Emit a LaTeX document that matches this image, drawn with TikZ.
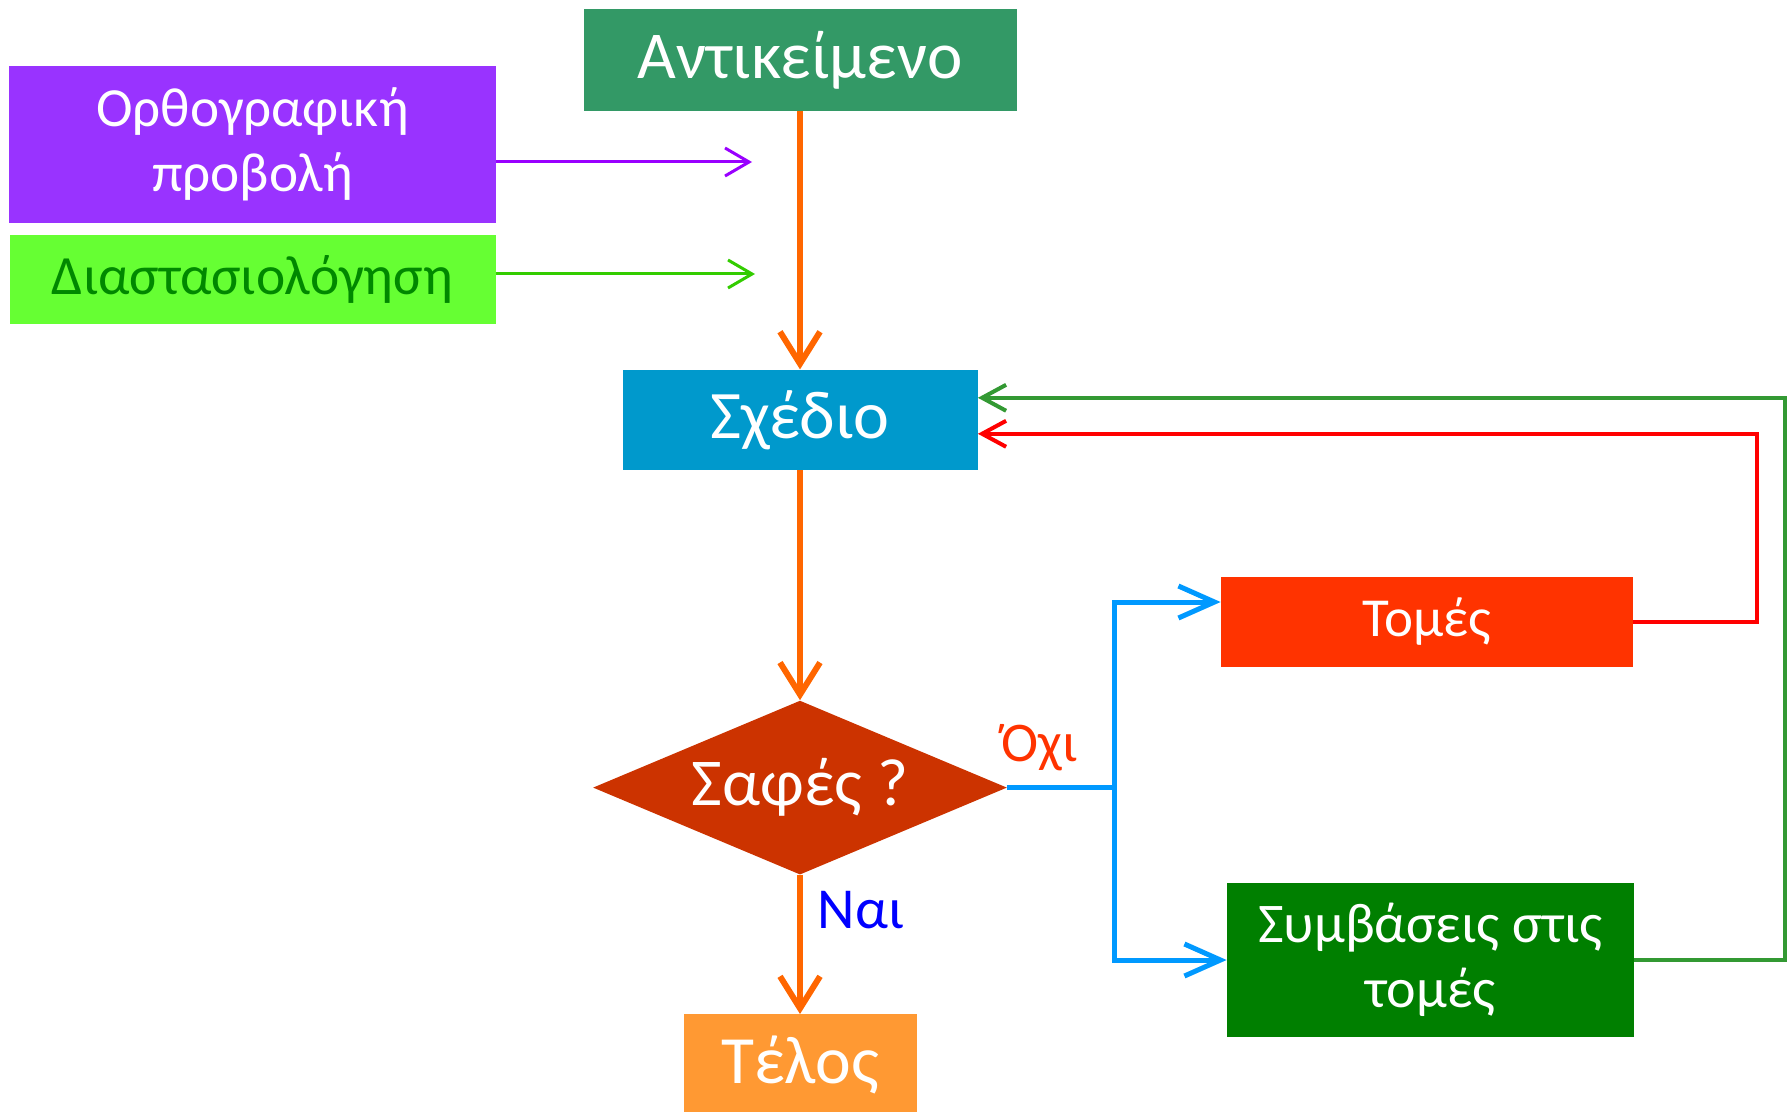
\documentclass[tikz,border=0pt]{standalone}
\usepackage{fontspec}
\setmainfont{Carlito}
\usetikzlibrary{arrows.meta,positioning,shapes.geometric}
\definecolor{objgreen}{HTML}{339966}
\definecolor{orthopurple}{HTML}{9933FF}
\definecolor{dimslime}{HTML}{66FF33}
\definecolor{dimstext}{HTML}{008800}
\definecolor{sketchblue}{HTML}{0099CC}
\definecolor{clearred}{HTML}{CC3300}
\definecolor{endorange}{HTML}{FF9933}
\definecolor{cutsred}{HTML}{FF3300}
\definecolor{convgreen}{HTML}{007F00}
\definecolor{flowor}{HTML}{FF6600}
\definecolor{nobranch}{HTML}{0099FF}
\definecolor{backred}{HTML}{FF0000}
\definecolor{backgreen}{HTML}{339933}
\definecolor{inpurple}{HTML}{9900FF}
\definecolor{ingreen}{HTML}{33CC00}
\begin{document}
\begin{tikzpicture}[x=0.5pt,y=-0.5pt]
    \tikzset{box/.style={rectangle,inner sep=0pt,align=center,text=white},
      flow/.style={-{Straight Barb[length=16pt,width=20pt]},line width=3pt,flowor},
      branch/.style={line width=2.5pt,nobranch},
      back/.style={-{Straight Barb[length=12pt,width=13pt]},line width=2pt}}
    \useasboundingbox (0,0) rectangle (1791,1112);
    \node[box,fill=objgreen,minimum width=216.5pt,minimum height=51pt,font=\fontsize{33.5}{40}\selectfont] (obj) at (800,60) {Αντικείμενο};
    \node[box,fill=sketchblue,minimum width=177.5pt,minimum height=50pt,font=\fontsize{34}{40}\selectfont,below=129pt of obj] (sketch) {Σχέδιο};
    \node[diamond,fill=clearred,text=white,inner sep=0pt,aspect=2.38,minimum width=207pt,minimum height=87pt,font=\fontsize{33.5}{40}\selectfont,below=115pt of sketch] (clear) {Σαφές ?};
    \node[box,fill=endorange,minimum width=116.5pt,minimum height=51pt,font=\fontsize{33.8}{40}\selectfont,below=69.5pt of clear] (finish) {Τέλος};
    \node[box,fill=orthopurple,minimum width=243.5pt,minimum height=78.5pt,font=\fontsize{27.6}{32.5}\selectfont] (ortho) at (252.5,144.5) {Ορθογραφική\\προβολή};
    \node[box,fill=dimslime,text=dimstext,minimum width=243pt,minimum height=44.5pt,font=\fontsize{27.7}{32}\selectfont,below=5.5pt of ortho] (dims) {Διαστασιολόγηση};
    \node[box,fill=cutsred,minimum width=206pt,minimum height=45pt,font=\fontsize{27.5}{32.5}\selectfont] (cuts) at (1427,622) {Τομές};
    \node[box,fill=convgreen,minimum width=203.5pt,minimum height=77pt,font=\fontsize{28}{32.5}\selectfont] (conv) at (1430.5,960) {Συμβάσεις στις\\τομές};
    \coordinate (orthotip) at (752,162);
    \coordinate (dimstip) at (755,274);
    \path (clear.east) ++(107,0) coordinate (fork);
    \draw[flow] (obj) -- (sketch);
    \draw[flow] (sketch) -- (clear);
    \draw[flow] (clear) -- (finish)
      node[pos=.25,right=4pt,text=blue,font=\fontsize{29}{34}\selectfont] {Ναι};
    \draw[-{Straight Barb[length=12pt,width=14pt]},line width=1.5pt,inpurple] (ortho.east |- orthotip) -- (orthotip);
    \draw[-{Straight Barb[length=12pt,width=14pt]},line width=1.5pt,ingreen] (dims.east |- dimstip) -- (dimstip);
    \draw[branch] (clear.east) -- (fork)
      node[pos=.3,above=4pt,text=cutsred,font=\fontsize{28}{32}\selectfont] {Όχι};
    \draw[branch,-{Straight Barb[length=18pt,width=16pt]}] (fork) |- ([yshift=10pt]cuts.west);
    \draw[branch,-{Straight Barb[length=18pt,width=16pt]}] (fork) |- (conv.west);
    \draw[back,backred] (cuts.east) -- ++(124,0) |- ([yshift=-7pt]sketch.east);
    \draw[back,backgreen] (conv.east) -- ++(151,0) |- ([yshift=11pt]sketch.east);
  \end{tikzpicture}
\end{document}
